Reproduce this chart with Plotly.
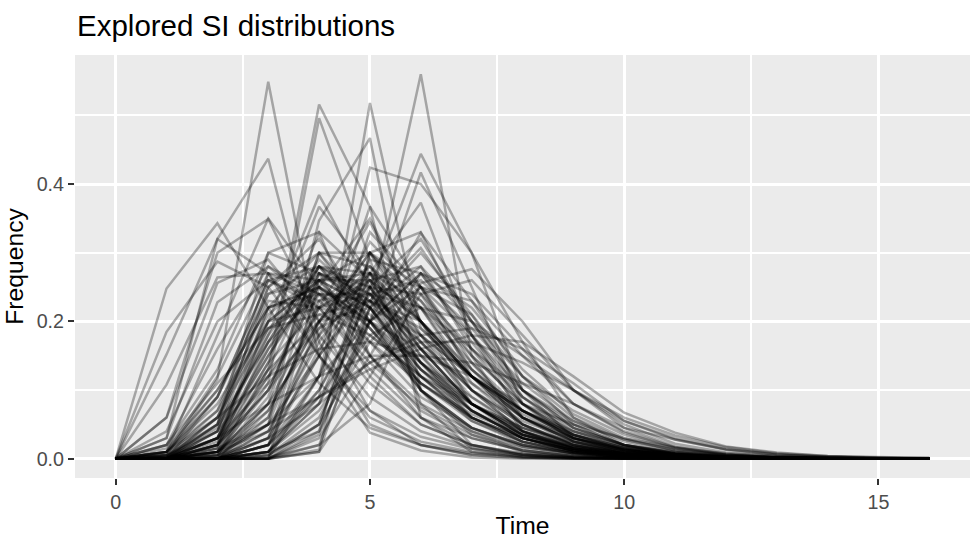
import plotly.graph_objects as go

time_days = list(range(17))

# Explored serial-interval distributions (frequency at each day 0..16)
si_01 = [0, .248, .343, .22, .11, .045, .02, .008, .003, .001]
si_02 = [0, .185, .287, .25, .15, .07, .032, .014, .006, .002, .001]
si_03 = [0, .152, .32, .27, .15, .06, .025, .01, .004, .001]
si_04 = [0, .108, .264, .27, .18, .09, .04, .016, .006, .002, .001]
si_05 = [0, .06, .256, .29, .2, .11, .05, .02, .008, .003, .001]
si_06 = [0, .03, .228, .28, .22, .13, .06, .03, .012, .004, .002, .001]
si_07 = [0, .06, .3, .349, .2, .07, .02, .005, .001]
si_08 = [0, .03, .32, .437, .15, .038, .012, .002]
si_09 = [0, .005, .116, .549, .17, .05, .02, .006, .002]
si_10 = [0, .02, .16, .28, .24, .15, .08, .04, .018, .008, .003, .001]
si_11 = [0, .01, .12, .27, .26, .17, .09, .045, .02, .008, .003, .001]
si_12 = [0, .04, .2, .26, .22, .14, .075, .035, .015, .006, .002, .001]
si_13 = [0, 0, .09, .26, .28, .19, .1, .045, .02, .008, .003, .001]
si_14 = [0, .005, .07, .25, .3, .2, .1, .045, .018, .007, .002, .001]
si_15 = [0, .01, .18, .35, .25, .12, .05, .02, .007, .002, .001]
si_16 = [0, .02, .13, .3, .27, .15, .07, .03, .012, .004, .001]
si_17 = [0, 0, .05, .3, .33, .15, .06, .02, .006, .002]
si_18 = [0, 0, .003, .13, .516, .367, .06, .01, .002]
si_19 = [0, 0, .005, .11, .496, .29, .08, .015, .003]
si_20 = [0, 0, .02, .2, .384, .25, .1, .035, .01, .003, .001]
si_21 = [0, 0, .03, .18, .367, .27, .1, .04, .012, .004, .001]
si_22 = [0, .005, .05, .17, .28, .23, .13, .07, .03, .012, .005, .002, .001]
si_23 = [0, 0, .03, .15, .27, .25, .15, .08, .04, .017, .007, .003, .001]
si_24 = [0, .01, .08, .2, .26, .22, .13, .06, .025, .01, .004, .001]
si_25 = [0, 0, .04, .22, .3, .22, .12, .055, .022, .008, .003, .001]
si_26 = [0, .002, .06, .19, .25, .21, .14, .08, .04, .018, .008, .003, .001]
si_27 = [0, 0, .01, .1, .26, .27, .18, .1, .05, .02, .008, .003, .001]
si_28 = [0, 0, 0, .08, .3, .3, .18, .08, .035, .015, .005, .002, .001]
si_29 = [0, 0, .02, .12, .24, .24, .17, .1, .055, .028, .013, .006, .002, .001]
si_30 = [0, .01, .1, .22, .25, .19, .11, .06, .03, .013, .005, .002, .001]
si_31 = [0, 0, .01, .06, .22, .26, .2, .12, .07, .035, .016, .007, .003, .001]
si_32 = [0, 0, 0, .02, .2, .3, .23, .13, .07, .03, .012, .005, .002, .001]
si_33 = [0, .001, .03, .16, .28, .25, .15, .07, .03, .012, .005, .002, .001]
si_34 = [0, 0, .015, .14, .33, .26, .14, .06, .025, .01, .004, .001]
si_35 = [0, 0, .04, .25, .32, .2, .1, .045, .02, .008, .003, .001]
si_36 = [0, 0, 0, 0, .26, .3, .2, .12, .06, .03, .015, .007, .003, .001]
si_37 = [0, 0, 0, .01, .09, .518, .19, .12, .05, .015, .005, .002]
si_38 = [0, 0, .01, .05, .347, .467, .1, .02, .005, .001]
si_39 = [0, 0, 0, .01, .12, .424, .40, .30, .1, .03, .008, .002]
si_40 = [0, 0, 0, .02, .15, .367, .25, .12, .05, .02, .007, .002, .001]
si_41 = [0, 0, .01, .08, .22, .345, .2, .08, .03, .01, .003, .001]
si_42 = [0, 0, 0, .03, .18, .316, .24, .13, .06, .025, .01, .004, .001]
si_43 = [0, 0, 0, 0, .013, .3, .25, .18, .1, .05, .02, .008, .003, .001]
si_44 = [0, 0, 0, 0, .035, .22, .28, .2, .12, .07, .035, .015, .006, .002, .001]
si_45 = [0, 0, .01, .07, .2, .28, .22, .12, .06, .025, .01, .004, .001]
si_46 = [0, 0, 0, .04, .17, .27, .23, .15, .08, .035, .015, .006, .002, .001]
si_47 = [0, 0, .005, .05, .15, .25, .24, .16, .09, .04, .018, .007, .003, .001]
si_48 = [0, 0, 0, .01, .1, .24, .26, .19, .11, .055, .025, .01, .004, .002, .001]
si_49 = [0, 0, .02, .1, .2, .26, .2, .12, .06, .026, .01, .004, .002]
si_50 = [0, 0, 0, .02, .12, .29, .27, .17, .08, .035, .013, .005, .002, .001]
si_51 = [0, 0, 0, .005, .06, .2, .27, .22, .13, .065, .03, .012, .005, .002, .001]
si_52 = [0, 0, 0, 0, .01, .22, .56, .15, .04, .01, .003, .001]
si_53 = [0, 0, 0, .005, .05, .25, .444, .30, .17, .06, .02, .006, .002, .001]
si_54 = [0, 0, 0, 0, .02, .2, .417, .25, .08, .025, .007, .002]
si_55 = [0, 0, 0, .01, .08, .27, .373, .18, .06, .02, .005, .001]
si_56 = [0, 0, 0, 0, .04, .2, .329, .23, .12, .05, .02, .007, .002, .001]
si_57 = [0, 0, 0, .02, .1, .23, .307, .2, .09, .035, .013, .004, .001]
si_58 = [0, 0, 0, 0, .03, .15, .27, .24, .16, .08, .038, .016, .006, .002, .001]
si_59 = [0, 0, 0, .005, .05, .17, .25, .23, .15, .08, .04, .017, .007, .003, .001]
si_60 = [0, 0, 0, 0, .01, .12, .24, .26, .18, .1, .05, .022, .009, .004, .001]
si_61 = [0, 0, 0, .002, .02, .08, .256, .276, .2, .1, .045, .018, .006, .002, .001]
si_62 = [0, .002, .015, .05, .09, .13, .16, .18, .17, .12, .067, .038, .018, .009, .004, .002, .001]
si_63 = [0, .005, .03, .08, .12, .15, .15, .14, .11, .08, .045, .028, .014, .007, .003, .001, .001]
si_64 = [0, .001, .01, .04, .09, .14, .17, .17, .14, .1, .06, .034, .017, .008, .004, .002, .001]
si_65 = [0, .01, .06, .12, .16, .17, .15, .12, .08, .05, .03, .016, .008, .004, .002, .001]
si_66 = [0, 0, .005, .03, .08, .14, .18, .19, .16, .11, .055, .03, .014, .006, .003, .001]
si_67 = [0, 0, .03, .2, .26, .22, .14, .08, .04, .018, .008, .003, .001]
si_68 = [0, .003, .05, .24, .28, .2, .11, .06, .03, .012, .005, .002, .001]
si_69 = [0, 0, .06, .23, .22, .2, .13, .08, .045, .022, .01, .004, .002, .001]
si_70 = [0, .01, .09, .26, .23, .17, .11, .065, .035, .018, .008, .003, .001]
si_71 = [0, 0, 0, .05, .23, .28, .2, .12, .065, .03, .013, .005, .002, .001]
si_72 = [0, 0, .01, .12, .21, .23, .19, .12, .07, .035, .016, .007, .003, .001]
si_73 = [0, .02, .11, .19, .21, .18, .12, .08, .045, .025, .012, .006, .003, .001]
si_74 = [0, 0, 0, .03, .25, .35, .2, .1, .04, .015, .006, .002, .001]
si_75 = [0, 0, .02, .14, .22, .27, .2, .1, .04, .015, .006, .002, .001]
si_76 = [0, 0, 0, .06, .27, .24, .18, .12, .07, .035, .016, .007, .003, .001]
si_77 = [0, 0, .005, .09, .3, .28, .17, .09, .04, .016, .006, .002, .001]
si_78 = [0, 0, 0, 0, .12, .33, .25, .15, .08, .04, .018, .008, .003, .001]
si_79 = [0, 0, 0, .01, .07, .18, .22, .2, .15, .1, .055, .028, .013, .006, .003, .001]
si_80 = [0, .005, .04, .13, .2, .22, .18, .12, .07, .04, .02, .01, .004, .002, .001]
si_81 = [0, 0, .02, .16, .25, .2, .16, .11, .06, .03, .014, .006, .002, .001]
si_82 = [0, 0, 0, .03, .15, .24, .22, .16, .1, .055, .028, .013, .006, .002, .001]
si_83 = [0, .015, .1, .22, .24, .2, .12, .06, .025, .01, .004, .001]
si_84 = [0, 0, .01, .08, .18, .25, .22, .14, .07, .03, .012, .005, .002, .001]
si_85 = [0, 0, 0, 0, .05, .25, .32, .2, .1, .045, .02, .008, .003, .001]
si_86 = [0, 0, 0, .02, .09, .2, .25, .21, .12, .06, .028, .012, .005, .002, .001]
si_87 = [0, .002, .03, .11, .19, .23, .2, .13, .07, .032, .014, .006, .002, .001]
si_88 = [0, 0, .04, .18, .28, .24, .14, .07, .03, .012, .005, .002, .001]
si_89 = [0, 0, 0, .01, .04, .3, .33, .18, .08, .03, .012, .004, .001]
si_90 = [0, 0, .005, .05, .12, .2, .27, .18, .09, .045, .02, .009, .004, .001]
si_91 = [0, 0, .02, .22, .25, .2, .14, .09, .045, .02, .008, .003, .001]
si_92 = [0, .005, .06, .21, .27, .22, .12, .06, .03, .012, .005, .002]
si_93 = [0, 0, .01, .13, .28, .27, .16, .08, .035, .014, .005, .002, .001]
si_94 = [0, 0, .03, .19, .23, .25, .16, .08, .035, .015, .006, .002, .001]
si_95 = [0, .003, .045, .17, .24, .23, .16, .08, .035, .015, .006, .002, .001]
si_96 = [0, 0, 0, .07, .2, .3, .22, .11, .05, .02, .008, .003, .001]
si_97 = [0, .01, .07, .2, .22, .24, .14, .07, .03, .012, .005, .002]
si_98 = [0, 0, .02, .1, .27, .23, .17, .1, .05, .022, .009, .004, .001]
si_99 = [0, 0, 0, .04, .19, .27, .25, .14, .06, .025, .01, .004, .001]
si_100 = [0, .008, .09, .24, .26, .19, .11, .055, .025, .01, .004, .001]
si_101 = [0, 0, .015, .17, .29, .22, .13, .07, .03, .012, .005, .002]
si_102 = [0, 0, 0, .02, .16, .26, .28, .16, .07, .03, .012, .004, .001]
si_103 = [0, 0, .05, .27, .24, .18, .12, .07, .035, .016, .007, .003, .001]
si_104 = [0, 0, 0, .01, .08, .22, .3, .21, .1, .045, .02, .008, .003, .001]
si_105 = [0, .002, .025, .15, .26, .26, .16, .08, .035, .014, .005, .002]

curves = [si_01, si_02, si_03, si_04, si_05, si_06, si_07, si_08, si_09, si_10,
          si_11, si_12, si_13, si_14, si_15, si_16, si_17, si_18, si_19, si_20,
          si_21, si_22, si_23, si_24, si_25, si_26, si_27, si_28, si_29, si_30,
          si_31, si_32, si_33, si_34, si_35, si_36, si_37, si_38, si_39, si_40,
          si_41, si_42, si_43, si_44, si_45, si_46, si_47, si_48, si_49, si_50,
          si_51, si_52, si_53, si_54, si_55, si_56, si_57, si_58, si_59, si_60,
          si_61, si_62, si_63, si_64, si_65, si_66, si_67, si_68, si_69, si_70,
          si_71, si_72, si_73, si_74, si_75, si_76, si_77, si_78, si_79, si_80,
          si_81, si_82, si_83, si_84, si_85, si_86, si_87, si_88, si_89, si_90,
          si_91, si_92, si_93, si_94, si_95, si_96, si_97, si_98, si_99, si_100,
          si_101, si_102, si_103, si_104, si_105]

x_ticks = [0, 5, 10, 15]
y_ticks = [0.0, 0.2, 0.4]
y_tick_text = ["0.0", "0.2", "0.4"]

FONT = "Liberation Sans, Arial, sans-serif"

fig = go.Figure()
for c in curves:
    vals = c + [0] * (len(time_days) - len(c))
    fig.add_trace(go.Scatter(
        x=time_days, y=vals, mode="lines",
        line=dict(color="rgba(0,0,0,0.3)", width=2.5),
        hoverinfo="skip", showlegend=False,
    ))

fig.update_layout(
    width=972, height=543,
    margin=dict(l=75, r=2, t=55, b=65, autoexpand=False),
    paper_bgcolor="white", plot_bgcolor="#EBEBEB",
    font=dict(family=FONT, color="black"),
    title=dict(text="Explored SI distributions", font=dict(size=29.5, color="black", family=FONT),
               xref="container", yref="container", x=77/972, xanchor="left",
               y=1 - 26/543, yanchor="middle"),
    showlegend=False,
)
fig.update_xaxes(
    range=[-0.8, 16.8], tickvals=x_ticks, ticktext=[str(v) for v in x_ticks],
    showgrid=True, gridcolor="white", gridwidth=3,
    minor=dict(dtick=2.5, tick0=0, showgrid=True, gridcolor="white", gridwidth=1.5),
    zeroline=False, showline=False,
    ticks="outside", ticklen=6, tickwidth=2, tickcolor="#333333",
    tickfont=dict(size=19.7, color="#4D4D4D", family=FONT),
    title=dict(text="Time", font=dict(size=24.7, color="black", family=FONT), standoff=5),
    automargin=False,
)
fig.update_yaxes(
    range=[-0.028, 0.588], tickvals=y_ticks, ticktext=y_tick_text,
    showgrid=True, gridcolor="white", gridwidth=3,
    minor=dict(dtick=0.1, tick0=0, showgrid=True, gridcolor="white", gridwidth=1.5),
    zeroline=False, showline=False,
    ticks="outside", ticklen=6, tickwidth=2, tickcolor="#333333",
    tickfont=dict(size=19.7, color="#4D4D4D", family=FONT),
    title=dict(text="Frequency", font=dict(size=24.7, color="black", family=FONT), standoff=6),
    automargin=False,
)

fig.write_html("out.html")
